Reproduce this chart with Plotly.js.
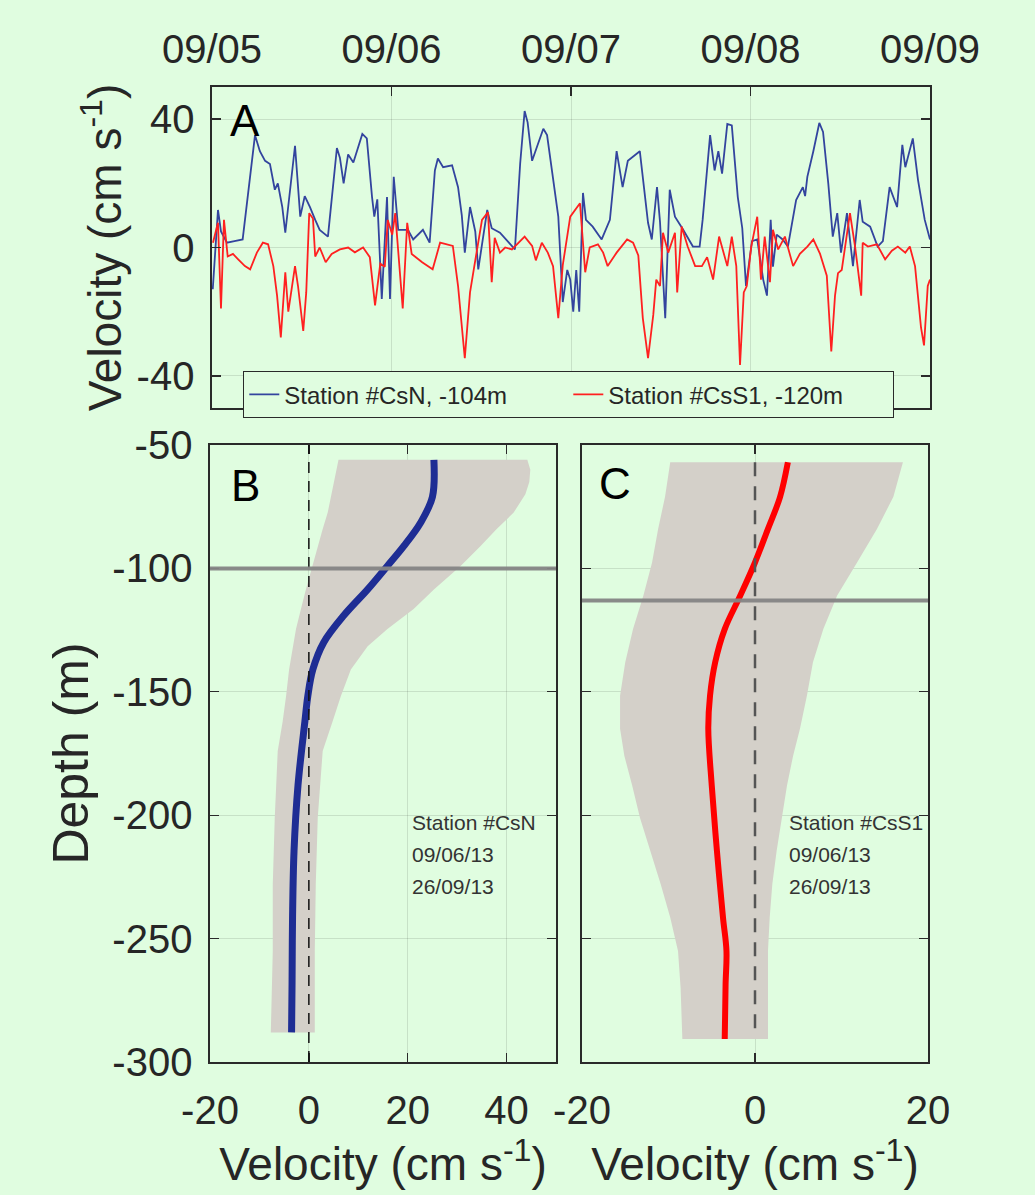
<!DOCTYPE html>
<html><head><meta charset="utf-8">
<script src="https://cdn.plot.ly/plotly-3.0.1.min.js"></script>
<style>html,body{margin:0;padding:0;background:#e0fde0;} #chart{width:1035px;height:1195px;}</style>
</head><body><div id="chart"></div>
<script>
// ---------- Panel A: time series (hours since 09/05 00:00) ----------
const dayTickVals = [0, 24, 48, 72, 96];
const dayTickText = ['09/05', '09/06', '09/07', '09/08', '09/09'];

const csnHours = [0.1,0.3,0.8,1.2,2.0,3.0,4.1,5.75,6.4,7.1,7.75,8.4,8.8,9.4,9.8,11.1,11.8,12.4,13.1,13.8,14.4,15.5,16.7,17.1,17.6,18.2,18.9,20.1,20.7,21.4,21.7,22.1,22.7,23.4,23.8,24.3,24.9,26.2,26.9,28.2,29.1,29.8,30.2,30.9,32.1,32.9,33.4,33.8,34.5,35.2,35.6,36.8,37.4,38.5,40.1,40.5,41.2,41.8,42.2,42.8,43.5,44.3,44.8,45.6,46.3,46.9,47.5,47.9,48.3,48.7,49.1,49.6,50.0,50.9,52.1,53.2,54.1,54.9,55.6,57.2,58.3,58.8,59.5,59.9,60.6,61.2,61.9,63.0,64.3,65.2,65.6,66.6,67.2,67.7,68.2,68.9,69.5,70.3,70.9,71.4,72.2,72.9,73.7,74.2,74.7,75.0,75.5,76.3,77.0,78.1,79.0,79.3,79.6,80.4,81.2,81.7,82.4,83.0,83.6,84.1,84.9,85.7,86.6,87.0,88.0,89.0,89.7,90.6,91.6,92.3,92.7,93.7,94.4,95.3,96.0];
const csnVel = [-13,-5,11.7,5,1.5,2,2.5,35,30,27,26,18,20,12.6,4.6,31.7,9.6,16,12.6,8.6,5.5,3.4,31,28,20,29,26.5,35.4,34,15.7,9.6,15,-16,15.7,-16,22,5.5,5.5,2.5,5.5,1.5,24,27.7,25,25.6,18.8,10,-1.6,12.6,5,-6.8,11.7,6,4.6,0.3,-0.6,26,42.5,39,27,31.7,37,35,22,9.6,-17,-7,-10,-20,-7,-20,17,8.6,6.5,2.5,8.6,30,18.8,27,30,7.7,2.5,18.8,8,-22,18,9.6,5.5,0.3,0.3,8.6,35,24,30,23,38.5,38,15.7,6,-12,2,2.5,-10,-15,8.6,-6,4,2.5,0.3,14.8,18.8,16,22,30,38.8,36,20,3.4,10.7,-1.6,10.7,-5.8,14.8,8,6.5,0.3,2,18.8,12.6,32,25,34,21,8.6,2.5];

const css1Hours = [0.13,0.8,1.2,1.6,2.1,2.8,3.5,4.4,5.1,6.0,6.8,7.5,8.2,8.7,9.2,9.8,10.2,11.1,11.5,12.2,12.6,13.0,13.5,13.8,14.4,15.2,16.0,17.1,18.2,19.1,20.2,21.1,21.8,22.5,23.1,23.5,24.1,24.5,25.5,26.1,26.7,28.1,29.5,30.5,32.2,32.9,33.8,34.5,35.2,36.1,36.9,37.4,37.8,38.5,39.2,40.1,41.8,42.8,43.3,44.1,44.9,45.6,46.3,46.9,47.9,49.2,49.9,50.5,51.6,52.3,52.9,54.1,55.5,56.3,57.0,57.6,58.3,59.0,59.4,59.9,60.3,61.0,61.9,62.2,62.8,63.6,64.6,65.5,66.2,67.0,67.8,68.2,68.9,69.5,70.1,70.6,71.1,71.5,72.1,72.9,73.4,73.9,74.6,75.0,75.7,76.6,77.7,78.6,79.6,80.4,81.3,82.2,82.8,83.3,83.7,84.2,84.9,85.3,86.0,86.8,87.0,87.7,88.9,90.0,90.9,91.7,92.7,93.3,94.0,94.8,95.2,95.7,96.0];
const css1Vel = [1.5,7.7,-19,8.6,-2.8,-2,-3.7,-5.8,-6.8,-1.6,1.5,1,-5.8,-15,-28,-7.7,-20,-5.8,-12,-26,-14,10.7,9,-2.8,0,-4.6,-2,-0.6,0,-1.5,0,-3,-18,-5,-6,8.6,4,10.7,-19,7.7,-2,-4.6,-6.8,1.5,0.5,-12,-34.5,-14,-4,8.6,11,-10.8,3,-1.6,0,-0.6,3.4,0.5,-4,1.5,-1.6,-5.8,-22,-5.5,9.6,13.8,-7.7,0,1,-1.6,-5.8,-1.6,2.5,1.5,-2.5,-22,-34.5,-21,-10,-12,4.6,-1.6,4.6,-14,6.5,0.3,-5.8,-5.8,-3,-10,3.4,0.3,-5.8,3.4,-5.8,-36.6,-14,-12,0.3,9.6,-10,3.4,-10.8,5.5,-0.6,3.4,-5.8,-2,0.3,2.5,-2,-8.8,-32.4,-15,-8,-7,3.4,10.7,0,-15,1.5,0.3,1,-3.7,-1,0.3,-1.6,0.3,-5.8,-25,-30.5,-12,-10];

// ---------- Panel B: station CsN profile ----------
const csnMeanDepth = [-56,-71,-81.5,-91,-99,-108.5,-119,-130,-141,-151.6,-162,-188,-214.5,-241.5,-268.5,-288];
const csnMeanVel   = [25.3,25,22.6,19.2,15.9,11.9,7.1,3,0.8,-0.2,-0.8,-2.2,-3,-3.3,-3.4,-3.5];
const csnEnvDepth  = [-56,-60,-65,-70,-77.5,-84,-91,-99,-108.5,-116.5,-124.6,-131.5,-141,-151.6,-162,-174,-201,-228,-255,-288];
const csnEnvLow    = [6,5.6,5.1,4.6,3.8,2.8,1.8,0.8,-0.6,-1.6,-2.6,-3.2,-4,-4.6,-5.3,-6.3,-6.9,-7.3,-7.3,-7.7];
const csnEnvHigh   = [44.2,44.8,44.6,43.8,41.4,38,34.7,30.7,25.3,21.2,15.9,11.9,8.5,6.5,4.8,2.8,1.8,1.4,1.2,1.2];
const csnRefDepth  = -100;

// ---------- Panel C: station CsS1 profile ----------
const css1MeanDepth = [-57,-71,-84,-97.6,-111,-124.6,-138,-151.6,-165,-188,-214.5,-241.5,-255,-268.5,-290.7];
const css1MeanVel   = [3.8,2.9,1.5,0,-1.7,-3.5,-4.6,-5.2,-5.4,-5,-4.4,-3.7,-3.3,-3.4,-3.5];
const css1EnvDepth  = [-57,-71,-84,-97.6,-111,-124.6,-138,-151.6,-165,-176,-188,-201,-214.5,-228,-241.5,-255,-270,-290.7];
const css1EnvLow    = [-9.8,-10.4,-11.2,-11.9,-12.9,-14.1,-15,-15.6,-15.6,-15.1,-14.2,-13.3,-12.1,-10.9,-9.8,-8.9,-8.6,-8.4];
const css1EnvHigh   = [17.1,16,14.1,11.8,9.5,7.9,6.7,6,5.2,4.4,3.7,3.1,2.5,2.0,1.7,1.5,1.5,1.5];
const css1RefDepth  = -113;
const css1ZeroSpan  = [-57, -290];

const profXTicksB = [-20, 0, 20, 40];
const profXTextB  = ['-20', '0', '20', '40'];
const profXTicksC = [-20, 0, 20];
const profXTextC  = ['-20', '0', '20'];
const depthTicks  = [-300, -250, -200, -150, -100, -50];
const depthText   = ['-300', '-250', '-200', '-150', '-100', '-50'];
const velTicksA   = [-40, 0, 40];
const velTextA    = ['-40', '0', '40'];
const stationLinesB = ['Station #CsN', '09/06/13', '26/09/13'];
const stationLinesC = ['Station #CsS1', '09/06/13', '26/09/13'];
const stationTextDepths = [-203, -216, -229];

// ---------- styling ----------
const BG = '#e0fde0';
const AX = '#2a2a2a';
const GRID = 'rgba(0,0,0,0.11)';
const FONT = 'Liberation Sans, Arial, sans-serif';
const TXT = '#262626';
const ENV = '#d4d0c9';

function poly(low, high, depth) {
  return { x: low.concat(high.slice().reverse()), y: depth.concat(depth.slice().reverse()) };
}
const envB = poly(csnEnvLow, csnEnvHigh, csnEnvDepth);
const envC = poly(css1EnvLow, css1EnvHigh, css1EnvDepth);

const traces = [
  { x: csnHours, y: csnVel, xaxis: 'x', yaxis: 'y', mode: 'lines', name: 'Station #CsN, -104m',
    line: { color: '#33449e', width: 1.8 } },
  { x: css1Hours, y: css1Vel, xaxis: 'x', yaxis: 'y', mode: 'lines', name: 'Station #CsS1, -120m',
    line: { color: '#ff2020', width: 1.8 } },
  { x: envB.x, y: envB.y, xaxis: 'x2', yaxis: 'y2', mode: 'lines', fill: 'toself', fillcolor: ENV,
    line: { width: 0, color: ENV }, showlegend: false, hoverinfo: 'skip' },
  { x: csnMeanVel, y: csnMeanDepth, xaxis: 'x2', yaxis: 'y2', mode: 'lines',
    line: { color: '#1e2d94', width: 7, shape: 'spline' }, showlegend: false },
  { x: envC.x, y: envC.y, xaxis: 'x3', yaxis: 'y3', mode: 'lines', fill: 'toself', fillcolor: ENV,
    line: { width: 0, color: ENV }, showlegend: false, hoverinfo: 'skip' },
  { x: css1MeanVel, y: css1MeanDepth, xaxis: 'x3', yaxis: 'y3', mode: 'lines',
    line: { color: '#ff0000', width: 6, shape: 'spline' }, showlegend: false }
];

const W = 1035, H = 1195;
const dx = (a, b) => [a / W, b / W];
const dy = (top, bot) => [1 - bot / H, 1 - top / H];

const baseAxis = {
  showline: true, linecolor: AX, linewidth: 1.6, mirror: 'ticks',
  ticks: 'inside', ticklen: 9, tickwidth: 1.3, tickcolor: AX,
  showgrid: true, gridcolor: GRID, gridwidth: 1, zeroline: false,
  tickfont: { family: FONT, size: 40, color: TXT }
};
const titleFont = { family: FONT, size: 46, color: TXT };

const layout = {
  width: W, height: H,
  margin: { l: 0, r: 0, t: 0, b: 0, pad: 0 },
  paper_bgcolor: BG, plot_bgcolor: BG,
  font: { family: FONT, color: TXT },
  xaxis: Object.assign({}, baseAxis, {
    domain: dx(212, 930), anchor: 'y', side: 'top', range: [0, 96],
    tickmode: 'array', tickvals: dayTickVals, ticktext: dayTickText, ticklabelstandoff: 6
  }),
  yaxis: Object.assign({}, baseAxis, {
    domain: dy(87, 408), anchor: 'x', range: [-50, 50],
    tickmode: 'array', tickvals: velTicksA, ticktext: velTextA, ticklabelstandoff: 8,
    title: { text: 'Velocity (cm s<sup>-1</sup>)', font: titleFont, standoff: 0 }
  }),
  xaxis2: Object.assign({}, baseAxis, {
    domain: dx(210, 556), anchor: 'y2', range: [-20, 50],
    tickmode: 'array', tickvals: profXTicksB, ticktext: profXTextB, ticklabelstandoff: 12,
    title: { text: 'Velocity (cm s<sup>-1</sup>)', font: titleFont, standoff: 12 }
  }),
  yaxis2: Object.assign({}, baseAxis, {
    domain: dy(445, 1062), anchor: 'x2', range: [-300, -50],
    tickmode: 'array', tickvals: depthTicks, ticktext: depthText, ticklabelstandoff: 8,
    title: { text: 'Depth (m)', font: { family: FONT, size: 50, color: TXT }, standoff: 8 }
  }),
  xaxis3: Object.assign({}, baseAxis, {
    domain: dx(582, 928), anchor: 'y3', range: [-20, 20],
    tickmode: 'array', tickvals: profXTicksC, ticktext: profXTextC, ticklabelstandoff: 12,
    title: { text: 'Velocity (cm s<sup>-1</sup>)', font: titleFont, standoff: 12 }
  }),
  yaxis3: Object.assign({}, baseAxis, {
    domain: dy(445, 1062), anchor: 'x3', range: [-300, -50],
    tickmode: 'array', tickvals: depthTicks, showticklabels: false
  }),
  legend: {
    orientation: 'h', x: 243 / W, y: 1 - 371 / H, xanchor: 'left', yanchor: 'top',
    bgcolor: BG, bordercolor: AX, borderwidth: 1.3,
    font: { family: FONT, size: 24, color: TXT }, entrywidth: 279, entrywidthmode: 'pixels',
    tracegroupgap: 0
  },
  shapes: [
    { type: 'line', xref: 'x2', yref: 'y2 domain', x0: 0, x1: 0, y0: 0, y1: 1,
      line: { color: '#111', width: 1.5, dash: '11px,8px' }, layer: 'above' },
    { type: 'line', xref: 'x3', yref: 'y3', x0: 0, x1: 0, y0: css1ZeroSpan[0], y1: css1ZeroSpan[1],
      line: { color: '#555', width: 2.5, dash: '14px,10px' }, layer: 'above' },
    { type: 'line', xref: 'x2 domain', yref: 'y2', x0: 0, x1: 1, y0: csnRefDepth, y1: csnRefDepth,
      line: { color: '#858585', width: 4 }, layer: 'above', opacity: 0.95 },
    { type: 'line', xref: 'x3 domain', yref: 'y3', x0: 0, x1: 1, y0: css1RefDepth, y1: css1RefDepth,
      line: { color: '#858585', width: 4 }, layer: 'above', opacity: 0.95 }
  ],
  annotations: []
};

const letterFont = { family: FONT, size: 44, color: '#000' };
[['A', 245, 121], ['B', 245, 485], ['C', 615, 483]].forEach(([t, px, py]) => layout.annotations.push({
  text: t, xref: 'paper', yref: 'paper', x: px / W, y: 1 - py / H, xanchor: 'center', yanchor: 'middle',
  showarrow: false, font: letterFont }));
const annFont = { family: FONT, size: 21, color: '#333' };
stationLinesB.forEach((t, i) => layout.annotations.push({
  text: t, xref: 'x2', yref: 'y2', x: 20.4, y: stationTextDepths[i], xanchor: 'left', yanchor: 'middle',
  showarrow: false, font: annFont }));
stationLinesC.forEach((t, i) => layout.annotations.push({
  text: t, xref: 'x3', yref: 'y3', x: 3.7, y: stationTextDepths[i], xanchor: 'left', yanchor: 'middle',
  showarrow: false, font: annFont }));

Plotly.newPlot('chart', traces, layout, { displayModeBar: false, staticPlot: true });
</script></body></html>
